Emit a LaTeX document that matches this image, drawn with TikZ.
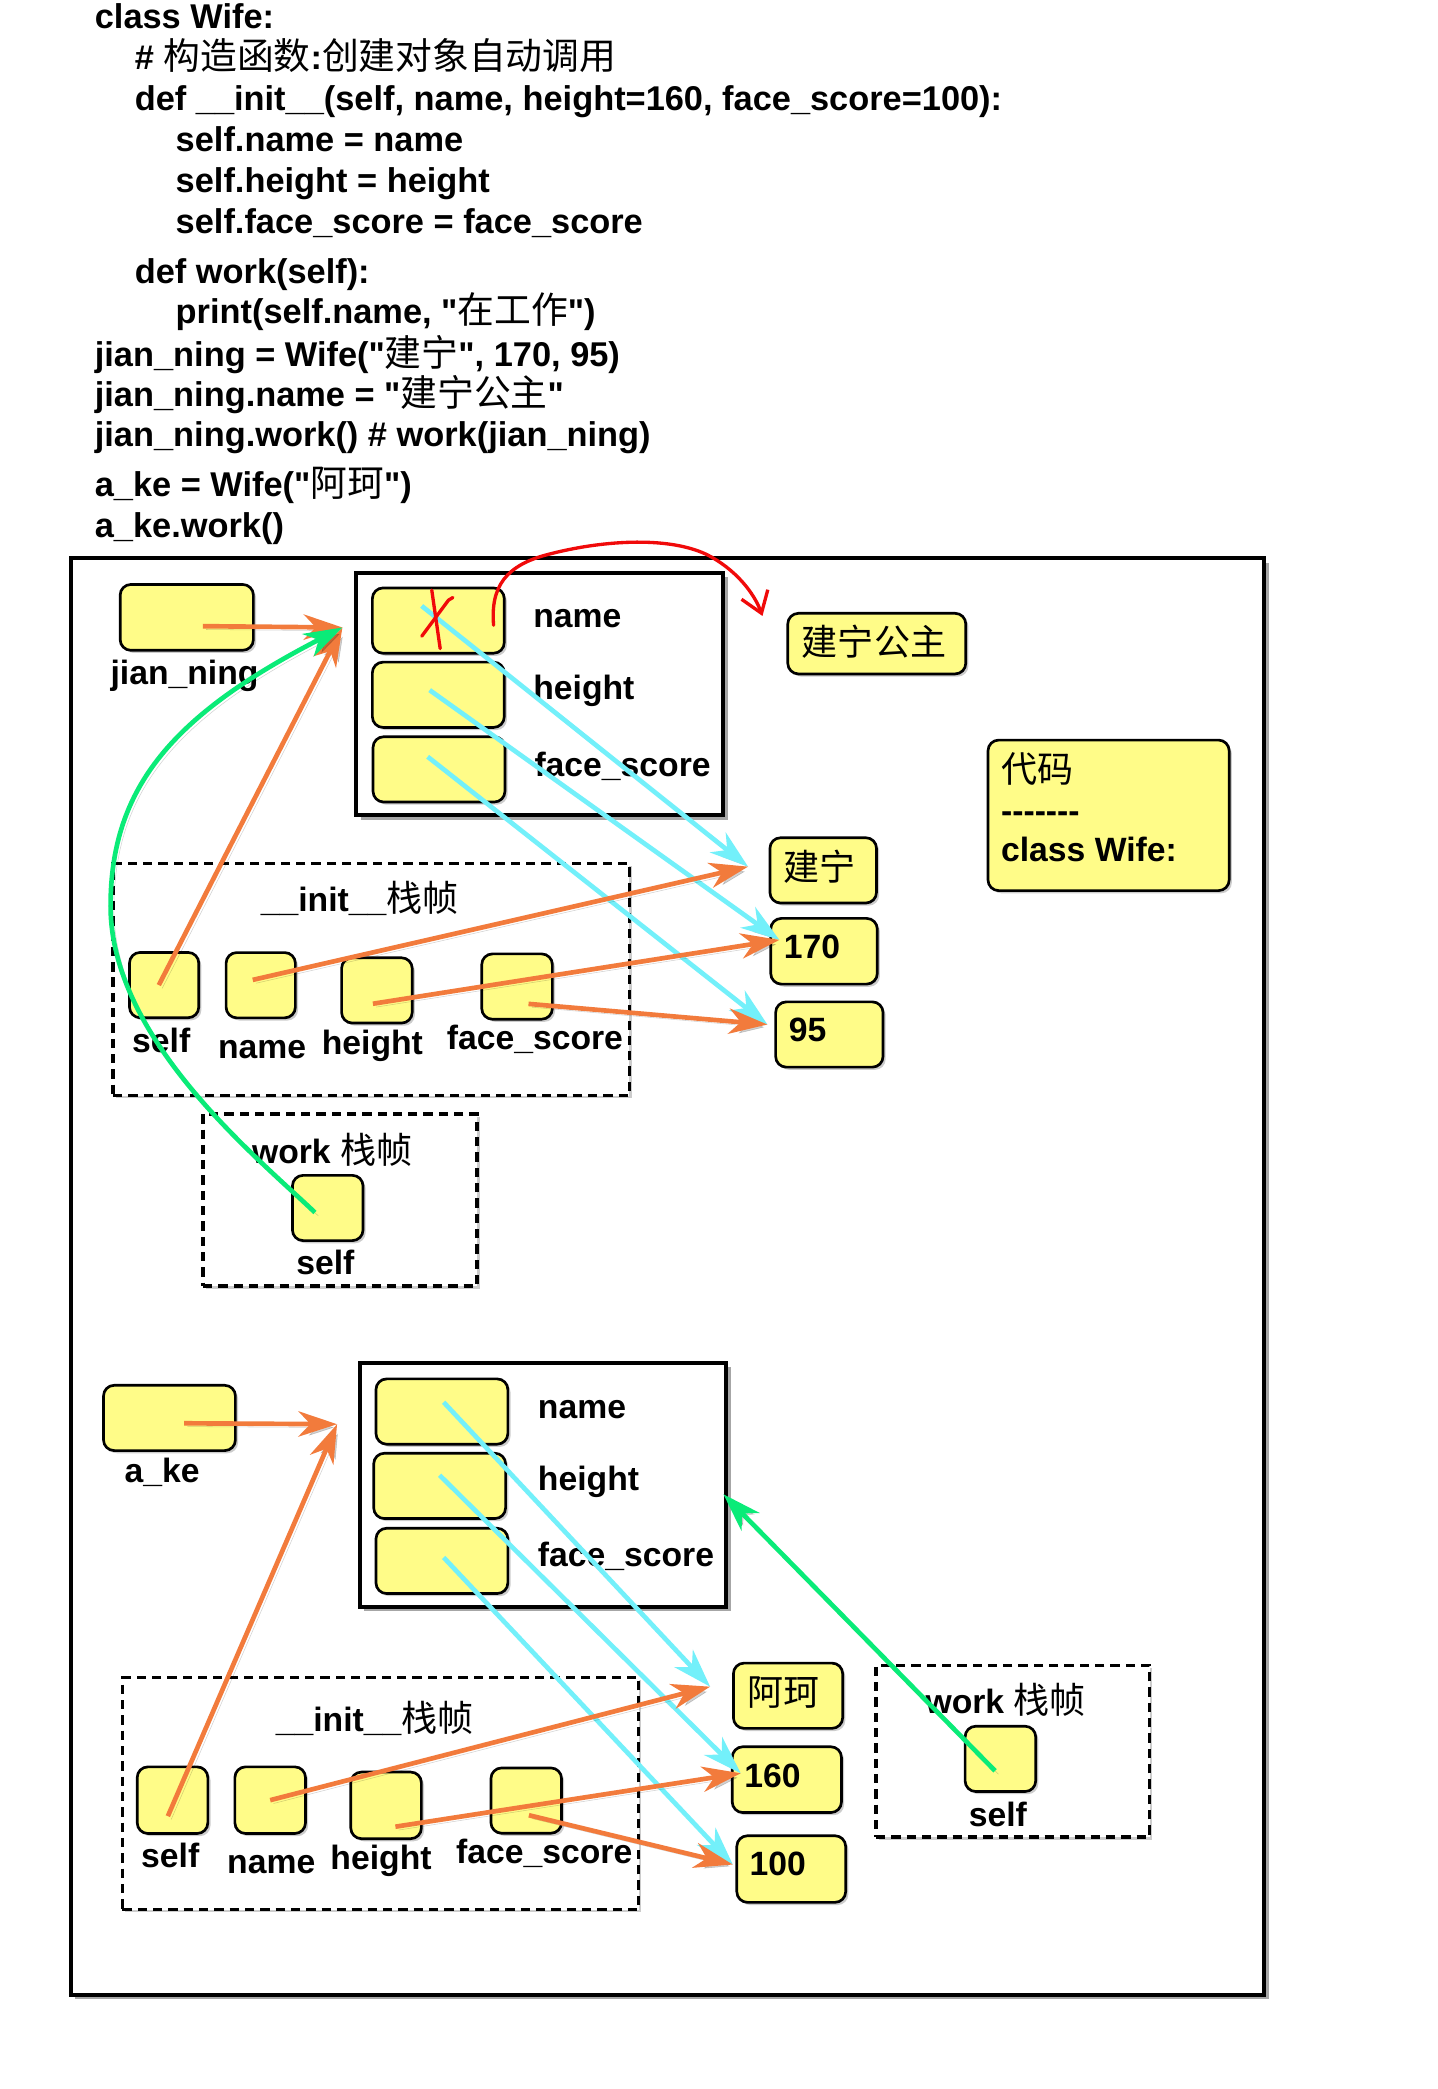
\documentclass[tikz,border=0pt]{standalone}
\usepackage{fontspec}
\setmainfont{Liberation Sans}[Ligatures=TeXOff]
\newfontfamily\cjkfont{Noto Sans CJK SC}[Scale=1.07,Ligatures=TeXOff]
\newcommand\zh[1]{{\cjkfont\mdseries #1}}
\usetikzlibrary{arrows.meta,shadows}
\definecolor{cellyellow}{RGB}{255,252,136}
\definecolor{ptrorange}{RGB}{242,123,60}
\definecolor{ptrcyan}{RGB}{115,240,250}
\definecolor{ptrgreen}{RGB}{10,235,120}
\definecolor{markred}{RGB}{240,10,10}
\begin{document}
\begin{tikzpicture}[x=1pt,y=-1pt,
  softshadow/.style={drop shadow={shadow xshift=3.5pt,shadow yshift=-3.5pt,opacity=0.35,fill=black}},
  lightshadow/.style={drop shadow={shadow xshift=2pt,shadow yshift=-2pt,opacity=0.2,fill=black}},
  cellbox/.style={draw=black,line width=2pt,fill=cellyellow,rounded corners=8pt,inner sep=0pt,lightshadow},
  objframe/.style={draw=black,line width=3pt,fill=white,inner sep=0pt,softshadow},
  stackframe/.style={draw=black,line width=2.5pt,dash pattern=on 7pt off 4.5pt,fill=white,inner sep=0pt,lightshadow},
  codeline/.style={font=\fontsize{25.8pt}{31pt}\selectfont\bfseries,inner sep=0pt,anchor=base west},
  lbl/.style={font=\fontsize{25.3pt}{30pt}\selectfont\bfseries,inner sep=0pt},
  arrowshade/.style={preaction={draw=black,opacity=0.18,transform canvas={shift={(2.5pt,-2.5pt)}}}},
  headtip/.style={-{Stealth[length=29pt,width=19pt,inset=9pt]}},
  orangeptr/.style={draw=ptrorange,line width=3.5pt,headtip,arrowshade},
  cyanptr/.style={draw=ptrcyan,line width=3.5pt,headtip,arrowshade},
  greenptr/.style={draw=ptrgreen,line width=3.5pt,headtip,arrowshade},
  redmark/.style={draw=markred,line width=2.5pt,line cap=round,line join=round}]

% page
\fill[white] (0,0) rectangle (1079,1568);
\useasboundingbox (0,0) rectangle (1079,1568);

% source code
\node[codeline] (c1) at (71,21.5) {class Wife:};
\node[codeline] (c2) at (101,52) {\# \zh{构造函数}:\zh{创建对象自动调用}};
\node[codeline] (c3) at (101,83) {def \_\_init\_\_(self, name, height=160, face\_score=100):};
\node[codeline] (c4) at (131.7,113.5) {self.name = name};
\node[codeline] (c5) at (131.7,144.5) {self.height = height};
\node[codeline] (c6) at (131.7,175) {self.face\_score = face\_score};
\node[codeline] (c7) at (101,212.5) {def work(self):};
\node[codeline] (c8) at (131.7,243) {print(self.name, "\zh{在工作}")};
\node[codeline] (c9) at (71,275) {jian\_ning = Wife("\zh{建宁}", 170, 95)};
\node[codeline] (c10) at (71,305) {jian\_ning.name = "\zh{建宁公主}"};
\node[codeline] (c11) at (71,335.5) {jian\_ning.work() \# work(jian\_ning)};
\node[codeline] (c12) at (71,373) {a\_ke = Wife("\zh{阿珂}")};
\node[codeline] (c13) at (71,403.5) {a\_ke.work()};

% memory area
\node[objframe,minimum width=895.8pt,minimum height=1078.2pt] (mem) at (500.9,958.1) {};

% stack frames
\node[stackframe,minimum width=387.5pt,minimum height=174.4pt] (init1) at (278.6,735.3) {};
\node[stackframe,minimum width=205.7pt,minimum height=129pt] (work1) at (255.3,900.7) {};
\node[stackframe,minimum width=387.4pt,minimum height=174.3pt] (init2) at (285.6,1346.3) {};
\node[stackframe,minimum width=205.3pt,minimum height=128.8pt] (work2) at (760.2,1314.4) {};

% objects
\node[objframe,minimum width=275.5pt,minimum height=182pt] (obj1) at (405,520.8) {};
\node[objframe,minimum width=275.2pt,minimum height=183pt] (obj2) at (407.5,1114.4) {};

% first object and its references
\node[cellbox,minimum width=100pt,minimum height=49.4pt] (jn) at (140.2,463.4) {};
\node[cellbox,minimum width=99pt,minimum height=49pt] (o1a) at (329,465.8) {};
\node[cellbox,minimum width=99pt,minimum height=49pt] (o1b) at (329,521.5) {};
\node[cellbox,minimum width=99pt,minimum height=49pt] (o1c) at (329.5,577.5) {};
\node[cellbox,minimum width=52pt,minimum height=49pt] (i1self) at (123.2,739.4) {};
\node[cellbox,minimum width=52pt,minimum height=49pt] (i1name) at (195.7,739.5) {};
\node[cellbox,minimum width=53pt,minimum height=49pt] (i1height) at (282.9,743.4) {};
\node[cellbox,minimum width=53pt,minimum height=49pt] (i1face) at (388.1,740.5) {};
\node[cellbox,minimum width=53pt,minimum height=49pt] (w1self) at (246,906.7) {};
\node[cellbox,minimum width=133.6pt,minimum height=45.5pt] (newname) at (658.1,483.1) {};
\node[cellbox,minimum width=181pt,minimum height=113pt] (codebox) at (832.1,612) {};
\node[cellbox,minimum width=80pt,minimum height=49pt] (v1) at (617.9,653.3) {};
\node[cellbox,minimum width=80pt,minimum height=49.3pt] (v2) at (618.5,714) {};
\node[cellbox,minimum width=80.6pt,minimum height=49pt] (v3) at (622.5,776.5) {};

% second object and its references
\node[cellbox,minimum width=99pt,minimum height=49pt] (ake) at (127.2,1064.3) {};
\node[cellbox,minimum width=99pt,minimum height=49pt] (o2a) at (331.7,1059.5) {};
\node[cellbox,minimum width=99pt,minimum height=49pt] (o2b) at (330,1115.3) {};
\node[cellbox,minimum width=99pt,minimum height=49pt] (o2c) at (331.7,1171.6) {};
\node[cellbox,minimum width=53pt,minimum height=50pt] (i2self) at (129.5,1351.2) {};
\node[cellbox,minimum width=53pt,minimum height=50pt] (i2name) at (202.8,1351.2) {};
\node[cellbox,minimum width=53pt,minimum height=50pt] (i2height) at (289.8,1355.1) {};
\node[cellbox,minimum width=53pt,minimum height=49pt] (i2face) at (395,1351.5) {};
\node[cellbox,minimum width=53pt,minimum height=49pt] (w2self) at (750.9,1320.2) {};
\node[cellbox,minimum width=82pt,minimum height=49pt] (v4) at (591.5,1272.8) {};
\node[cellbox,minimum width=82pt,minimum height=49.4pt] (v5) at (590.6,1335.8) {};
\node[cellbox,minimum width=81.7pt,minimum height=50pt] (v6) at (593.9,1402.9) {};

% labels
\node[lbl,anchor=base] (jnL) at (138.5,514) {jian\_ning};
\node[lbl,anchor=base west] (o1aL) at (400.1,471.2) {name};
\node[lbl,anchor=base west] (o1bL) at (400.1,524.8) {height};
\node[lbl,anchor=base west] (o1cL) at (401,582.5) {face\_score};
\node[lbl,anchor=base] (init1T) at (270,684.4) {\_\_init\_\_\zh{栈帧}};
\node[lbl,anchor=base] (i1selfL) at (121,790.3) {self};
\node[lbl,anchor=base] (i1nameL) at (196.7,794.3) {name};
\node[lbl,anchor=base] (i1heightL) at (279.5,791.6) {height};
\node[lbl,anchor=base] (i1faceL) at (401.5,787.6) {face\_score};
\node[lbl,anchor=base] (work1T) at (249.3,873.2) {work \zh{栈帧}};
\node[lbl,anchor=base] (w1selfL) at (244.2,957) {self};
\node[lbl,anchor=base west] (newnameT) at (601.7,491.8) {\zh{建宁公主}};
\node[lbl,anchor=base west] (codeT1) at (751.2,587) {\zh{代码}};
\node[lbl,anchor=base west] (codeT2) at (751.2,617) {-------};
\node[lbl,anchor=base west] (codeT3) at (751.2,647) {class Wife:};
\node[lbl,anchor=base west] (v1T) at (588.2,660.8) {\zh{建宁}};
\node[lbl,anchor=base west] (v2T) at (588.2,719.1) {170};
\node[lbl,anchor=base west] (v3T) at (591.9,781.4) {95};

\node[lbl,anchor=base] (akeL) at (121.7,1112.6) {a\_ke};
\node[lbl,anchor=base west] (o2aL) at (403.6,1064.4) {name};
\node[lbl,anchor=base west] (o2bL) at (403.6,1118.8) {height};
\node[lbl,anchor=base west] (o2cL) at (403.6,1175.6) {face\_score};
\node[lbl,anchor=base] (init2T) at (281.2,1299.6) {\_\_init\_\_\zh{栈帧}};
\node[lbl,anchor=base] (i2selfL) at (127.8,1401.6) {self};
\node[lbl,anchor=base] (i2nameL) at (203.6,1405.9) {name};
\node[lbl,anchor=base] (i2heightL) at (286,1403) {height};
\node[lbl,anchor=base] (i2faceL) at (408.5,1398.7) {face\_score};
\node[lbl,anchor=base] (work2T) at (754.8,1286.4) {work \zh{栈帧}};
\node[lbl,anchor=base] (w2selfL) at (749,1371) {self};
\node[lbl,anchor=base west] (v4T) at (560.7,1280.5) {\zh{阿珂}};
\node[lbl,anchor=base west] (v5T) at (558.6,1341.4) {160};
\node[lbl,anchor=base west] (v6T) at (562.4,1408.1) {100};

% arrow targets
\coordinate (obj1in) at (257,471);
\coordinate (obj2in) at (253,1069);
\coordinate (v1in) at (561.5,650.5);
\coordinate (v2in) at (585,705.5);
\coordinate (v3in) at (576,769);
\coordinate (v4in) at (533,1266);
\coordinate (v5in) at (556,1331);
\coordinate (v6in) at (550,1399.5);
\coordinate (obj2side) at (543,1121.6);
\coordinate (newnamein) at ([xshift=-18pt,yshift=-3pt]newname.north west);
\coordinate (bend) at (83,680);

% attributes -> values
\draw[cyanptr] ([xshift=-12.5pt,yshift=11pt]o1a.center) -- (v1in);
\draw[cyanptr] ([xshift=-6.5pt,yshift=3.5pt]o1b.center) -- (v2in);
\draw[cyanptr] ([xshift=-8.5pt,yshift=9.5pt]o1c.center) -- (v3in);
\draw[cyanptr] ([xshift=1.3pt,yshift=7pt]o2a.center) -- (v4in);
\draw[cyanptr] ([yshift=8pt]o2b.center) -- (v5in);
\draw[cyanptr] ([xshift=1.3pt,yshift=2.6pt]o2c.center) -- (v6in);

% variables -> objects / values
\draw[orangeptr] ([xshift=12pt,yshift=-6.6pt]jn.center) -- (obj1in);
\draw[orangeptr] ([xshift=-4pt]i1self.center) -- (obj1in);
\draw[orangeptr] ([xshift=-6pt,yshift=4pt]i1name.center) -- (v1in);
\draw[orangeptr] ([xshift=-3pt,yshift=-10pt]i1height.center) -- (v2in);
\draw[orangeptr] ([xshift=8.6pt,yshift=-13pt]i1face.center) -- (v3in);
\draw[orangeptr] ([xshift=11pt,yshift=-4pt]ake.center) -- (obj2in);
\draw[orangeptr] ([xshift=-3.5pt,yshift=-12pt]i2self.center) -- (obj2in);
\draw[orangeptr] (i2name.center) -- (v4in);
\draw[orangeptr] ([xshift=7pt,yshift=-16pt]i2height.center) -- (v5in);
\draw[orangeptr] ([xshift=2pt,yshift=-11pt]i2face.center) -- (v6in);

% self of work()
\draw[greenptr] ([xshift=-9.6pt,yshift=-3.4pt]w1self.center)
  .. controls (193,868.6) and (83,780) .. (bend)
  .. controls (83,590) and (131,536) .. (obj1in);
\draw[greenptr] ([xshift=-4pt,yshift=-9pt]w2self.center) -- (obj2side);

% name reassigned
\draw[redmark,-{Straight Barb[length=15pt,width=21pt]}] ([xshift=-9pt,yshift=-3.5pt]o1a.east)
  .. controls (368,440) and (380,424) .. (412,416)
  .. controls (450,406) and (500,402) .. (530,416)
  .. controls (552,427) and (566,445) .. (newnamein);
\draw[redmark] (324.1,443) -- (330.4,486.8);
\draw[redmark] (316.6,477.5) -- (336.6,450.5) -- (339.9,448.5);

\end{tikzpicture}
\end{document}
